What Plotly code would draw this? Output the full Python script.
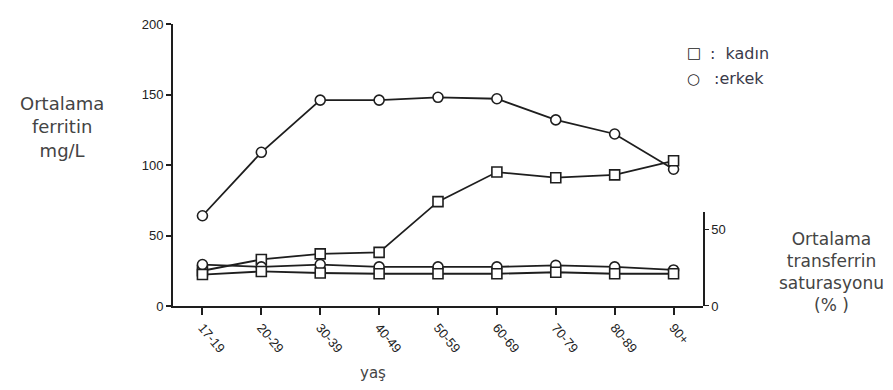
import plotly.graph_objects as go

categories = ["17-19", "20-29", "30-39", "40-49", "50-59", "60-69", "70-79", "80-89", "90+"]
ferritin_erkek = [64, 109, 146, 146, 148, 147, 132, 122, 97]
ferritin_kadin = [25, 33, 37, 38, 74, 95, 91, 93, 103]
transferrin_erkek = [27, 25.5, 27, 25.5, 25.5, 25.5, 26.5, 25.5, 23.5]
transferrin_kadin = [20.5, 22.5, 21.5, 21, 21, 21, 22, 21, 21]

left_ticks = [0, 50, 100, 150, 200]
right_ticks = [0, 50]

LC = "#1e1e1e"
fig = go.Figure()

def add(y, sym, axis):
    fig.add_trace(go.Scatter(
        x=categories, y=y, mode="lines+markers", yaxis=axis,
        line=dict(color=LC, width=1.8),
        marker=dict(symbol=sym, size=10, color="white", line=dict(color=LC, width=1.6)),
        showlegend=False, cliponaxis=False))

add(transferrin_erkek, "circle", "y2")
add(transferrin_kadin, "square", "y2")
add(ferritin_erkek, "circle", "y")
add(ferritin_kadin, "square", "y")

tickfont = dict(family="Liberation Sans, Arial", size=13, color="#222")

# page body adds an 8px offset, so the figure is sized 8px smaller
fig.update_layout(
    width=885, height=382,
    margin=dict(l=165, r=190, t=9, b=84),
    paper_bgcolor="white", plot_bgcolor="rgba(0,0,0,0)",
    xaxis=dict(type="category", range=[-0.5, 8.5], showgrid=False, zeroline=False,
               showline=True, linecolor=LC, linewidth=2,
               ticks="outside", ticklen=7, tickcolor=LC, tickwidth=1.5,
               tickangle=50, tickfont=tickfont),
    yaxis=dict(range=[0, 200], tickvals=left_ticks, showgrid=False, zeroline=False,
               showline=True, linecolor=LC, linewidth=2,
               ticks="outside", ticklen=5, tickcolor=LC, tickwidth=1.5,
               tickfont=tickfont),
    yaxis2=dict(range=[0, 61], domain=[0, 0.332], anchor="x", side="right",
                tickvals=right_ticks, showgrid=False, zeroline=False,
                showline=True, linecolor=LC, linewidth=1.5,
                ticks="outside", ticklen=4, tickcolor=LC, tickwidth=1.2,
                tickfont=tickfont),
)

txtfont = dict(family="DejaVu Sans, Verdana, sans-serif", size=17, color="#444")
legfont = dict(family="DejaVu Sans, Verdana, sans-serif", size=16, color="#3a3a4a")

fig.add_annotation(xref="paper", yref="paper", x=-0.209, y=0.635, xanchor="center", yanchor="middle",
                   text="Ortalama<br>ferritin<br>mg/L", showarrow=False,
                   font=dict(family="DejaVu Sans, Verdana, sans-serif", size=18, color="#444"), align="center")
fig.add_annotation(xref="paper", yref="paper", x=1.243, y=0.12, xanchor="center", yanchor="middle",
                   text="Ortalama<br>transferrin<br>saturasyonu<br>(% )", showarrow=False, font=txtfont, align="center")
fig.add_annotation(xref="paper", yref="paper", x=0.378, y=-0.238, xanchor="center", yanchor="middle",
                   text="yaş", showarrow=False,
                   font=dict(family="DejaVu Sans, Verdana, sans-serif", size=15, color="#444"))
fig.add_annotation(xref="paper", yref="paper", x=0.966, y=0.896, xanchor="left", yanchor="middle",
                   text="□", showarrow=False, font=dict(family="DejaVu Sans", size=15, color="#222"))
fig.add_annotation(xref="paper", yref="paper", x=0.966, y=0.806, xanchor="left", yanchor="middle",
                   text="○", showarrow=False, font=dict(family="DejaVu Sans", size=15, color="#222"))
fig.add_annotation(xref="paper", yref="paper", x=1.01, y=0.896, xanchor="left", yanchor="middle",
                   text=":  kadın", showarrow=False, font=legfont)
fig.add_annotation(xref="paper", yref="paper", x=1.017, y=0.806, xanchor="left", yanchor="middle",
                   text=":erkek", showarrow=False, font=legfont)

fig.write_html("out.html")
